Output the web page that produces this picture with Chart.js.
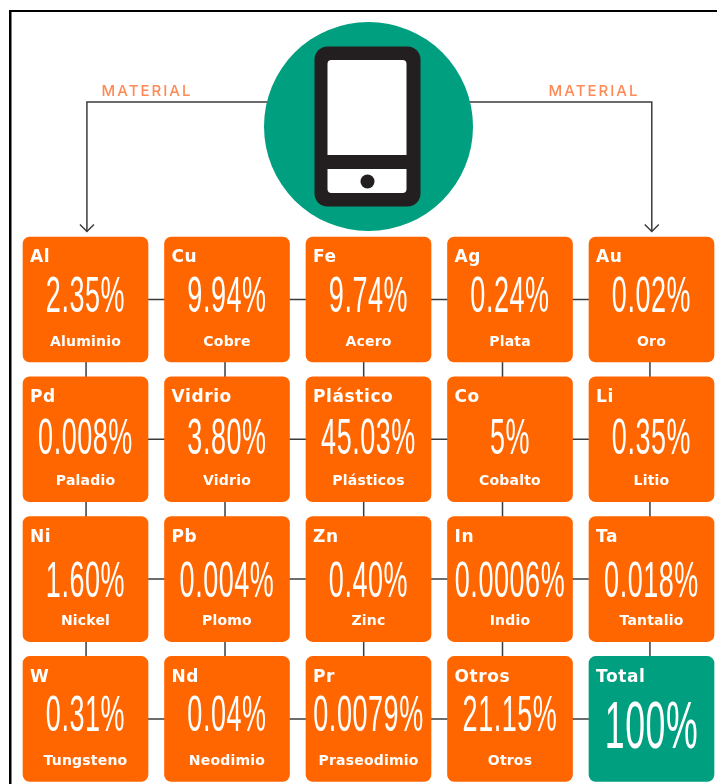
<!DOCTYPE html>
<html>
<head>
<meta charset="utf-8">
<title>Materiales de un celular</title>
<script src="https://cdn.jsdelivr.net/npm/chart.js@4"></script>
<style>
  html, body { margin: 0; padding: 0; background: #fff; }
  canvas { display: block; }
</style>
</head>
<body>
<canvas id="chart" width="717" height="784"></canvas>
<script>
// tile contents, read left to right, top to bottom
const symbols = ['Al','Cu','Fe','Ag','Au','Pd','Vidrio','Plástico','Co','Li','Ni','Pb','Zn','In','Ta','W','Nd','Pr','Otros','Total'];
const percents = ['2.35%','9.94%','9.74%','0.24%','0.02%','0.008%','3.80%','45.03%','5%','0.35%','1.60%','0.004%','0.40%','0.0006%','0.018%','0.31%','0.04%','0.0079%','21.15%','100%'];
const names = ['Aluminio','Cobre','Acero','Plata','Oro','Paladio','Vidrio','Plásticos','Cobalto','Litio','Nickel','Plomo','Zinc','Indio','Tantalio','Tungsteno','Neodimio','Praseodimio','Otros',''];

const ORANGE = '#ff6600';
const GREEN = '#009f7f';
const LINE = '#3c3c3c';
const DARK = '#231f20';
const PEACH = '#ff8a55';

const tileData = symbols.map((s, i) => {
  const col = i % 5, row = Math.floor(i / 5);
  return { x: col, y: [row - 0.447, row + 0.447] };
});

// the big numbers do not sit at the same height in every row
const percentDrop = [61, 63, 67, 61];

// the links between tiles wander a little off centre in the original
const linkCols = [0.004, -0.014, -0.034, -0.053, -0.011];
const rowLinks = [0, 1, 2, 3].map(r => ({
  type: 'line', order: 5, borderColor: LINE, borderWidth: 1.5, pointRadius: 0,
  data: [{ x: 0, y: r }, { x: 4, y: r }]
}));
const colLinks = linkCols.map((c, i) => ({
  type: 'line', order: 5, borderColor: LINE, borderWidth: 1.5, pointRadius: 0,
  data: [{ x: i + c, y: 0 }, { x: i + c, y: 3 }]
}));
const arrowLeft = [{ x: 2, y: -1.413 }, { x: 0.01, y: -1.413 }, { x: 0.01, y: -0.487 }];
const arrowRight = [{ x: 2, y: -1.413 }, { x: 4.002, y: -1.413 }, { x: 4.002, y: -0.487 }];

const infographic = {
  id: 'infographic',
  beforeDraw(chart) {
    const { ctx, width, height } = chart;
    ctx.save();
    ctx.fillStyle = '#000';
    ctx.fillRect(9, 10, 2.5, height - 10);
    ctx.fillRect(9, 10, width - 9, 2);
    ctx.restore();
  },
  afterDatasetsDraw(chart) {
    const { ctx } = chart;
    const sx = chart.scales.x, sy = chart.scales.y;
    ctx.save();

    // phone on top of the circle
    const cx = sx.getPixelForValue(2) - 1, cy = sy.getPixelForValue(-1.2375);
    ctx.fillStyle = DARK;
    ctx.beginPath(); ctx.roundRect(cx - 53, cy - 80, 106, 160, 13); ctx.fill();
    ctx.fillStyle = '#fff';
    ctx.beginPath(); ctx.roundRect(cx - 40, cy - 66.5, 79, 95, [4, 4, 0, 0]); ctx.fill();
    ctx.beginPath(); ctx.roundRect(cx - 40, cy + 42.5, 79, 24, [0, 0, 4, 4]); ctx.fill();
    ctx.fillStyle = DARK;
    ctx.beginPath(); ctx.arc(cx, cy + 55, 7, 0, Math.PI * 2); ctx.fill();

    // arrow heads
    ctx.strokeStyle = LINE; ctx.lineWidth = 1.5;
    [arrowLeft[2], arrowRight[2]].forEach(p => {
      const ax = sx.getPixelForValue(p.x), ay = sy.getPixelForValue(p.y);
      ctx.beginPath();
      ctx.moveTo(ax - 7, ay - 7); ctx.lineTo(ax, ay); ctx.lineTo(ax + 7, ay - 7);
      ctx.stroke();
    });

    // MATERIAL labels
    ctx.fillStyle = PEACH;
    ctx.font = '500 15px Inter';
    ctx.letterSpacing = '2px';
    ctx.textAlign = 'center'; ctx.textBaseline = 'middle';
    ctx.fillText('MATERIAL', 147, 91);
    ctx.fillText('MATERIAL', 594, 91);

    // tile texts
    ctx.fillStyle = '#fff';
    chart.getDatasetMeta(0).data.forEach((bar, i) => {
      const left = bar.x - 62.5, top = Math.min(bar.y, bar.base);
      ctx.textAlign = 'left';
      ctx.letterSpacing = '0.6px';
      ctx.font = 'bold 17px "DejaVu Sans"';
      ctx.fillText(symbols[i], left + 7, top + 21);

      const big = i === 19;
      ctx.save();
      ctx.translate(bar.x, top + (big ? 73 : percentDrop[Math.floor(i / 5)]));
      ctx.scale(0.54, 1);
      ctx.textAlign = 'center';
      ctx.letterSpacing = '1px';
      ctx.font = (big ? 66 : 50) + 'px "Liberation Sans"';
      ctx.fillText(percents[i], 0, 0);
      ctx.restore();

      ctx.textAlign = 'center';
      ctx.letterSpacing = '0.2px';
      ctx.font = 'bold 14px "DejaVu Sans"';
      ctx.fillText(names[i], bar.x, top + 105);
    });
    ctx.restore();
  }
};

new Chart(document.getElementById('chart'), {
  type: 'bar',
  data: {
    datasets: [
      {
        type: 'bar', order: 1, data: tileData,
        backgroundColor: symbols.map(s => s === 'Total' ? GREEN : ORANGE),
        barThickness: 125, grouped: false, borderRadius: 7, borderSkipped: false
      },
      {
        type: 'bubble', order: 2, data: [{ x: 2, y: -1.2375, r: 104.5 }],
        backgroundColor: GREEN, borderWidth: 0
      },
      ...rowLinks,
      ...colLinks,
      { type: 'line', order: 5, borderColor: LINE, borderWidth: 1.5, pointRadius: 0, data: arrowLeft },
      { type: 'line', order: 5, borderColor: LINE, borderWidth: 1.5, pointRadius: 0, data: arrowRight }
    ]
  },
  options: {
    responsive: false,
    animation: false,
    layout: { padding: 0, autoPadding: false },
    plugins: { legend: { display: false }, tooltip: { enabled: false } },
    scales: {
      x: { type: 'linear', display: false, offset: false, min: -85.5 / 141.5, max: (717 - 85.5) / 141.5 },
      y: { type: 'linear', display: false, reverse: true, min: -299.5 / 139.8, max: (784 - 299.5) / 139.8 }
    }
  },
  plugins: [infographic]
});
</script>
</body>
</html>
